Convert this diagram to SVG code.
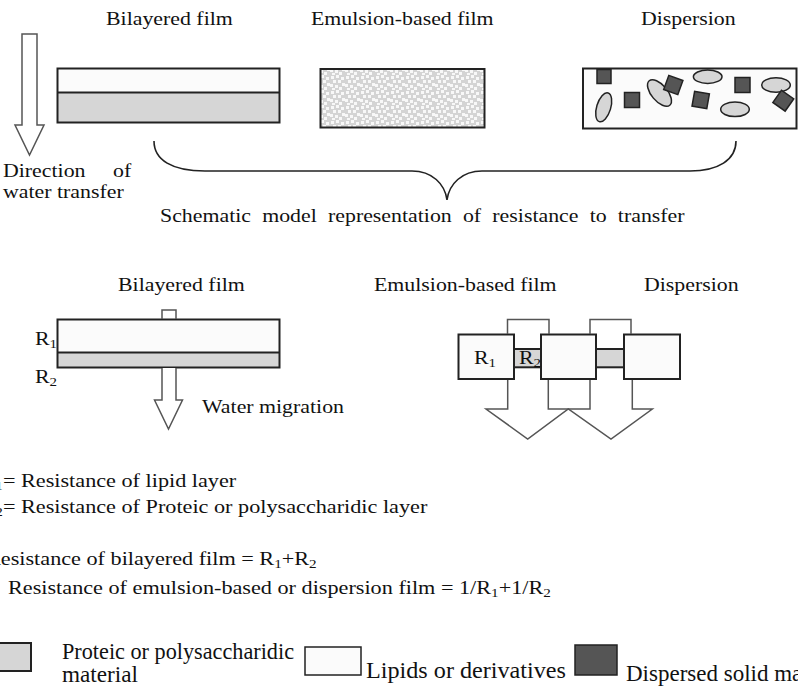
<svg xmlns="http://www.w3.org/2000/svg" width="798" height="686" viewBox="0 0 798 686">
  <style>
    text { font-family: "Liberation Serif", "Times New Roman", serif; font-size: 19px; fill: #111; }
    .sub { font-size: 13px; }
    .leg { font-size: 23px; }
    .frame { stroke: #222; stroke-width: 2; }
    .lipid { fill: #fbfbfb; }
    .prot { fill: #d6d6d6; }
    .solid { fill: #555; stroke: #222; stroke-width: 1.5; }
    .drop { fill: #d6d6d6; stroke: #222; stroke-width: 1.5; }
    .flow { fill: none; stroke: #555; stroke-width: 1.5; }
    .hollow { fill: #fff; stroke: #555; stroke-width: 1.5; }
  </style>
  <defs>
    <!-- speckled lipid droplets in a protein matrix -->
    <pattern id="speckle" width="15" height="15" patternUnits="userSpaceOnUse">
      <rect width="15" height="15" fill="#d4d4d4"/>
      <g fill="#f8f8f8">
        <rect x="1" y="1" width="3" height="3"/>
        <rect x="6" y="0" width="3" height="3"/>
        <rect x="11" y="2" width="3" height="3"/>
        <rect x="3" y="5" width="3" height="3"/>
        <rect x="8" y="5" width="3" height="3"/>
        <rect x="0" y="9" width="3" height="3"/>
        <rect x="5" y="10" width="3" height="3"/>
        <rect x="12" y="8" width="3" height="3"/>
        <rect x="2" y="13" width="3" height="2"/>
        <rect x="9" y="12" width="3" height="3"/>
      </g>
    </pattern>
    <filter id="soft" x="0" y="0" width="1" height="1">
      <feGaussianBlur stdDeviation="0.45"/>
    </filter>
  </defs>

  <rect width="798" height="686" fill="#fff"/>

  <!-- top row titles -->
  <g id="titles-top">
    <text transform="matrix(1.15 0 0 1 106 25)">Bilayered film</text>
    <text transform="matrix(1.15 0 0 1 311 25)">Emulsion-based film</text>
    <text transform="matrix(1.15 0 0 1 641 25)">Dispersion</text>
  </g>

  <!-- direction of water transfer -->
  <g id="transfer-arrow">
    <path class="hollow" d="M22,34 H37 V125 H44 L29.5,155 L15,125 H22 Z"/>
    <text transform="matrix(1.15 0 0 1 3 177)">Direction</text>
    <text transform="matrix(1.15 0 0 1 113 177)">of</text>
    <text transform="matrix(1.15 0 0 1 3 198)">water transfer</text>
  </g>

  <!-- bilayered film -->
  <g id="bilayer-top">
    <rect class="lipid" x="57.5" y="68.5" width="222" height="24"/>
    <rect class="prot" x="57.5" y="92.5" width="222" height="30"/>
    <rect class="frame" x="57.5" y="68.5" width="222" height="54" fill="none"/>
    <line class="frame" x1="57.5" y1="92.5" x2="279.5" y2="92.5"/>
  </g>

  <!-- emulsion-based film -->
  <g id="emulsion-top">
    <rect x="320.5" y="69" width="164" height="58.5" fill="url(#speckle)" filter="url(#soft)"/>
    <rect class="frame" x="320.5" y="69" width="164" height="58.5" fill="none"/>
  </g>

  <!-- dispersion -->
  <g id="dispersion-top">
    <rect class="lipid frame" x="583" y="68.5" width="213.5" height="60"/>
    <ellipse class="drop" cx="603.7" cy="107.3" rx="7" ry="15" transform="rotate(17 603.7 107.3)"/>
    <ellipse class="drop" cx="659.5" cy="93" rx="8" ry="16" transform="rotate(-40 659.5 93)"/>
    <ellipse class="drop" cx="707.7" cy="76.7" rx="14.3" ry="6.7"/>
    <ellipse class="drop" cx="735" cy="109.3" rx="14.3" ry="7.3"/>
    <ellipse class="drop" cx="776" cy="85" rx="14.3" ry="7.3"/>
    <rect class="solid" x="597" y="69.5" width="14" height="14"/>
    <rect class="solid" x="624.5" y="92.5" width="15" height="15"/>
    <rect class="solid" x="665.8" y="77.5" width="15" height="15" transform="rotate(20 673.3 85)"/>
    <rect class="solid" x="693.2" y="92.5" width="15" height="15" transform="rotate(10 700.7 100)"/>
    <rect class="solid" x="735" y="77.5" width="15" height="15"/>
    <rect class="solid" x="775.8" y="93.2" width="15" height="15" transform="rotate(35 783.3 100.7)"/>
  </g>

  <!-- brace and caption -->
  <g id="brace">
    <path fill="none" stroke="#222" stroke-width="1.6" d="M154,141 C154,160 172,171 205,171 L412,171 C432,171 445,184 447,200 C449,184 462,171 482,171 L690,171 C718,171 736,160 736,141"/>
    <text transform="matrix(1.15 0 0 1 160 222)" word-spacing="5">Schematic model representation of resistance to transfer</text>
  </g>

  <!-- lower row titles -->
  <g id="titles-bottom">
    <text transform="matrix(1.15 0 0 1 118 291)">Bilayered film</text>
    <text transform="matrix(1.15 0 0 1 374 291)">Emulsion-based film</text>
    <text transform="matrix(1.15 0 0 1 644 291)">Dispersion</text>
  </g>

  <!-- series resistances: bilayered film -->
  <g id="bilayer-model">
    <rect class="lipid" x="57.5" y="319.5" width="222" height="33"/>
    <rect class="prot" x="57.5" y="352.5" width="222" height="15"/>
    <rect class="frame" x="57.5" y="319.5" width="222" height="48" fill="none"/>
    <line class="frame" x1="57.5" y1="352.5" x2="279.5" y2="352.5"/>
    <text transform="matrix(1.15 0 0 1 35 345)">R<tspan class="sub" dy="3">1</tspan></text>
    <text transform="matrix(1.15 0 0 1 35 383)">R<tspan class="sub" dy="3">2</tspan></text>
  </g>

  <!-- parallel resistances: emulsion-based film -->
  <g id="emulsion-model">
    <rect class="prot frame" x="514" y="349" width="27" height="18.3"/>
    <rect class="prot frame" x="596" y="349" width="28" height="18.3"/>
    <rect class="lipid frame" x="458.5" y="334.5" width="55.5" height="44.5"/>
    <rect class="lipid frame" x="541" y="334.5" width="55" height="44.5"/>
    <rect class="lipid frame" x="624" y="334.5" width="56" height="44.5"/>
    <text transform="matrix(1.15 0 0 1 474 364)">R<tspan class="sub" dy="3">1</tspan></text>
    <text transform="matrix(1.15 0 0 1 519 364)">R<tspan class="sub" dy="3">2</tspan></text>
  </g>

  <!-- flow lines and arrows -->
  <g id="connectors">
    <path class="flow" d="M162,319 V310 H176 V319"/>
    <path class="hollow" d="M162,368 V400 H154.5 L168.5,429 L182.5,400 H176 V368"/>
    <path class="flow" d="M507.5,334 V319.5 H549 V334"/>
    <path class="flow" d="M590,334 V319.5 H631 V334"/>
    <path class="flow" d="M507.7,380 V409 H486 L527.7,439 L568.3,409 L611,439 L652.3,409 H632.3 V380"/>
    <path class="flow" d="M548.3,380 V409 H590 V380"/>
  </g>

  <text transform="matrix(1.15 0 0 1 202 413)">Water migration</text>

  <!-- definitions and totals -->
  <g id="equations">
    <text transform="matrix(1.17 0 0 1 -19.5 487)">R<tspan class="sub" dy="3">1</tspan><tspan dy="-3">= Resistance of lipid layer</tspan></text>
    <text transform="matrix(1.17 0 0 1 -19.5 513)">R<tspan class="sub" dy="3">2</tspan><tspan dy="-3">= Resistance of Proteic or polysaccharidic layer</tspan></text>
    <text transform="matrix(1.17 0 0 1 -14 565)">Resistance of bilayered film = R<tspan class="sub" dy="3">1</tspan><tspan dy="-3">+R</tspan><tspan class="sub" dy="3">2</tspan></text>
    <text transform="matrix(1.17 0 0 1 8 594)">Resistance of emulsion-based or dispersion film = 1/R<tspan class="sub" dy="3">1</tspan><tspan dy="-3">+1/R</tspan><tspan class="sub" dy="3">2</tspan></text>
  </g>

  <!-- legend -->
  <g id="legend">
    <rect class="prot frame" x="-3" y="643" width="34" height="28"/>
    <text class="leg" x="62" y="659" textLength="232" lengthAdjust="spacingAndGlyphs">Proteic or polysaccharidic</text>
    <text class="leg" x="62" y="682" textLength="76" lengthAdjust="spacingAndGlyphs">material</text>
    <rect class="lipid" x="305" y="647" width="56" height="28" stroke="#222" stroke-width="1.5"/>
    <text class="leg" x="366" y="678" textLength="200" lengthAdjust="spacingAndGlyphs">Lipids or derivatives</text>
    <rect class="solid" x="575" y="645" width="42" height="30"/>
    <text class="leg" x="626" y="681">Dispersed solid ma</text>
  </g>
</svg>
